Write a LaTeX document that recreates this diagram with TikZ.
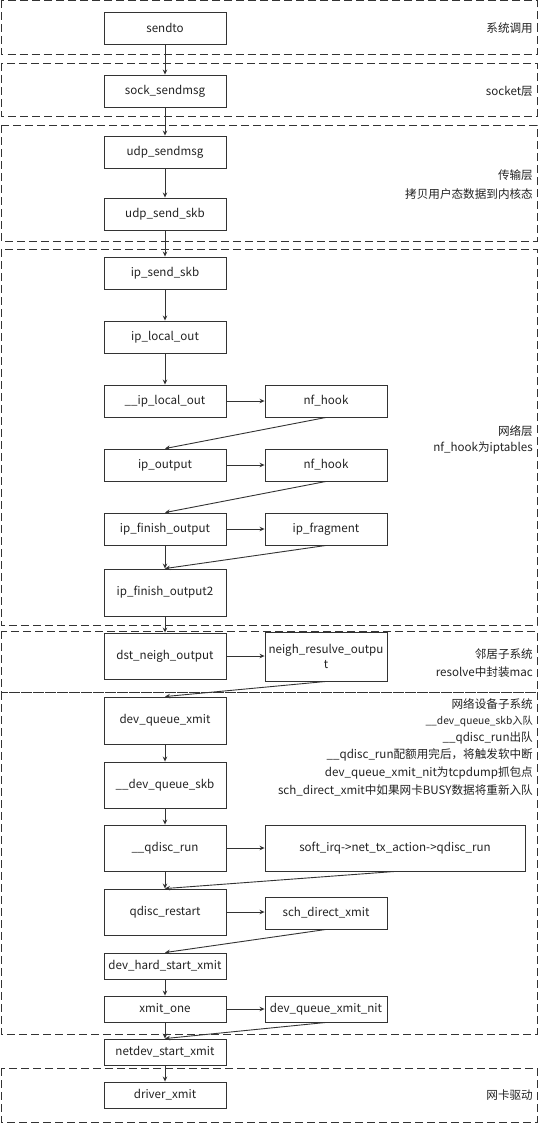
\documentclass[tikz,border=0pt]{standalone}
\usepackage{fontspec}
\newfontfamily\cjk{Noto Sans CJK SC}
\usetikzlibrary{arrows.meta}
\definecolor{ln}{HTML}{333333}
\definecolor{tx}{HTML}{222222}
\begin{document}
\begin{tikzpicture}[x=1pt,y=-1pt,
  box/.style={draw=ln, line width=0.9pt, font=\cjk\fontsize{11.6}{15}\selectfont, text=tx, minimum width=122pt, inner sep=2pt, align=center},
  rbox/.style={box},
  arr/.style={draw=ln, line width=0.9pt, -{Stealth[length=5pt,width=4.5pt]}},
  layer/.style={draw=ln, line width=0.9pt, dash pattern=on 8pt off 4pt},
  lbl/.style={font=\cjk\fontsize{11.6}{15}\selectfont, text=tx, anchor=east, inner sep=0pt},
  slbl/.style={lbl, font=\cjk\fontsize{10.2}{13}\selectfont}]
\useasboundingbox (0,0) rectangle (539,1124);
% layers
\draw[layer] (1,0.5) rectangle (537,54);
\draw[layer] (1,63) rectangle (537,116);
\draw[layer] (1,125) rectangle (537,241);
\draw[layer] (1,249) rectangle (537,625);
\draw[layer] (1,631) rectangle (537,692);
\draw[layer] (1,692) rectangle (537,1034);
\draw[layer] (1,1068) rectangle (537,1122);
% left column
\node[box, minimum height=32pt] (sendto) at (165,28) {sendto};
\node[box, minimum height=32pt] (sock) at (165,91) {sock\_sendmsg};
\node[box, minimum height=32pt] (udpm) at (165,152) {udp\_sendmsg};
\node[box, minimum height=32pt] (udps) at (165,214) {udp\_send\_skb};
\node[box, minimum height=32pt] (ipss) at (165,273) {ip\_send\_skb};
\node[box, minimum height=32pt] (iplo) at (165,337) {ip\_local\_out};
\node[box, minimum height=32pt] (uiplo) at (165,401) {\_\_ip\_local\_out};
\node[box, minimum height=32pt] (ipout) at (165,465) {ip\_output};
\node[box, minimum height=32pt] (ipfo) at (165,529) {ip\_finish\_output};
\node[box, minimum height=47pt] (ipfo2) at (165,592.5) {ip\_finish\_output2};
\node[box, minimum height=46pt] (dno) at (165,656) {dst\_neigh\_output};
\node[box, minimum height=47pt] (dqx) at (165,720.5) {dev\_queue\_xmit};
\node[box, minimum height=46pt] (dqs) at (165,785) {\_\_dev\_queue\_skb};
\node[box, minimum height=46pt] (qrun) at (165,848) {\_\_qdisc\_run};
\node[box, minimum height=46pt] (qrst) at (165,912) {qdisc\_restart};
\node[box, minimum height=26pt] (dhsx) at (165,966) {dev\_hard\_start\_xmit};
\node[box, minimum height=26pt] (xone) at (165,1009) {xmit\_one};
\node[box, minimum height=26pt] (nsx) at (165,1052) {netdev\_start\_xmit};
\node[box, minimum height=26pt] (drv) at (165,1095) {driver\_xmit};
% right column
\node[rbox, minimum height=32pt] (nf1) at (326,401) {nf\_hook};
\node[rbox, minimum height=32pt] (nf2) at (326,465) {nf\_hook};
\node[rbox, minimum height=32pt] (ipfr) at (326,529) {ip\_fragment};
\node[rbox, minimum height=49pt] (nro) at (326,656.5) {neigh\_resulve\_outpu\\t};
\node[rbox, minimum height=46pt, minimum width=260pt] (sirq) at (395,848) {soft\_irq->net\_tx\_action->qdisc\_run};
\node[rbox, minimum height=32pt] (sdx) at (326,913) {sch\_direct\_xmit};
\node[rbox, minimum height=26pt] (dqxn) at (326,1009) {dev\_queue\_xmit\_nit};
% vertical arrows
\draw[arr] (sendto) -- (sock);
\draw[arr] (sock) -- (udpm);
\draw[arr] (udpm) -- (udps);
\draw[arr] (udps) -- (ipss);
\draw[arr] (ipss) -- (iplo);
\draw[arr] (iplo) -- (uiplo);
\draw[arr] (ipfo) -- (ipfo2);
\draw[arr] (ipfo2) -- (dno);
\draw[arr] (dqx) -- (dqs);
\draw[arr] (dqs) -- (qrun);
\draw[arr] (qrun) -- (qrst);
\draw[arr] (dhsx) -- (xone);
\draw[arr] (xone) -- (nsx);
\draw[arr] (nsx) -- (drv);
% horizontal arrows
\draw[arr] (uiplo.east) -- (nf1.west);
\draw[arr] (ipout.east) -- (nf2.west);
\draw[arr] (ipfo.east) -- (ipfr.west);
\draw[arr] (dno.east) -- (dno.east -| nro.west);
\draw[arr] (qrun.east) -- (sirq.west);
\draw[arr] (qrst.east) -- (qrst.east -| sdx.west);
\draw[arr] (xone.east) -- (dqxn.west);
% diagonal returns
\draw[arr] (nf1.south) -- (ipout.north);
\draw[arr] (nf2.south) -- (ipfo.north);
\draw[arr] (ipfr.south) -- (ipfo2.north);
\draw[arr] (nro.south) -- (dqx.north);
\draw[arr] (sirq.south) -- (qrst.north);
\draw[arr] (sdx.south) -- (dhsx.north);
\draw[arr] (dqxn.south) -- (nsx.north);
% labels
\node[lbl] (t1) at (533,28) {系统调用};
\node[lbl] (t2) at (533,91) {socket层};
\node[lbl] (t3) at (533,175) {传输层};
\node[lbl] (t4) at (533,194) {拷贝用户态数据到内核态};
\node[lbl] (t5) at (533,431) {网络层};
\node[lbl] (t6) at (533,448) {nf\_hook为iptables};
\node[lbl] (t7) at (533,654) {邻居子系统};
\node[lbl] (t8) at (533,672) {resolve中封装mac};
\node[lbl] (t9) at (533,704) {网络设备子系统};
\node[slbl] (t10) at (533,721) {\_\_dev\_queue\_skb入队};
\node[lbl] (t11) at (533,738) {\_\_qdisc\_run出队};
\node[lbl] (t12) at (533,755) {\_\_qdisc\_run配额用完后，将触发软中断};
\node[lbl] (t13) at (533,773) {dev\_queue\_xmit\_nit为tcpdump抓包点};
\node[lbl] (t14) at (533,790) {sch\_direct\_xmit中如果网卡BUSY数据将重新入队};
\node[lbl] (t15) at (533,1095) {网卡驱动};
\end{tikzpicture}
\end{document}
